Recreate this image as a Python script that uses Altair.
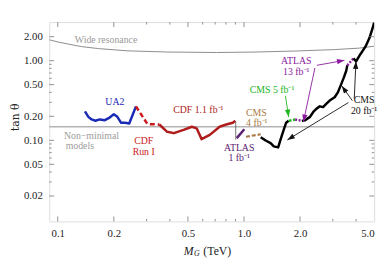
import math
import altair as alt
import pandas as pd

# ---------------- data ----------------
ua2_m = [0.140, 0.146, 0.152, 0.1595, 0.168, 0.179, 0.190, 0.200, 0.209, 0.219, 0.230, 0.242, 0.252, 0.263]
ua2_t = [0.231, 0.197, 0.183, 0.176, 0.183, 0.179, 0.193, 0.212, 0.197, 0.166, 0.166, 0.163, 0.206, 0.267]

cdf1_m = [0.263, 0.303, 0.351]
cdf1_t = [0.267, 0.160, 0.158]

cdf11_m = [0.351, 0.387, 0.420, 0.474, 0.525, 0.557, 0.592, 0.655, 0.740, 0.803, 0.871, 0.899]
cdf11_t = [0.158, 0.128, 0.123, 0.135, 0.148, 0.1415, 0.1035, 0.117, 0.148, 0.158, 0.166, 0.176]

conn_m = [0.903, 0.903]
conn_t = [0.172, 0.102]

atlas1_m = [0.915, 1.004]
atlas1_t = [0.1065, 0.1375]

cms4_m = [1.025, 1.23]
cms4_t = [0.111, 0.119]

cms20a_m = [1.23, 1.307, 1.39, 1.446, 1.526, 1.570, 1.634, 1.683, 1.737]
cms20a_t = [0.1096, 0.0994, 0.0923, 0.0839, 0.0815, 0.1014, 0.1348, 0.166, 0.1756]

cms5_m = [1.737, 1.884]
cms5_t = [0.1756, 0.1827]

atlas13a_m = [1.884, 2.045]
atlas13a_t = [0.1827, 0.1756]

cms20b_m = [2.045, 2.13, 2.262, 2.355, 2.455, 2.555, 2.66, 2.773, 2.886, 3.068, 3.193, 3.328, 3.435, 3.538, 3.59]
cms20b_t = [0.1756, 0.179, 0.197, 0.227, 0.250, 0.267, 0.261, 0.288, 0.316, 0.347, 0.40, 0.508, 0.613, 0.742, 0.875]

atlas13b_m = [3.59, 3.87]
atlas13b_t = [0.875, 1.067]

cms20c_m = [3.87, 4.0, 4.21, 4.49, 4.71, 4.89, 5.0]
cms20c_t = [1.067, 0.98, 1.196, 1.50, 1.91, 2.50, 3.0]

wide_m = [0.09, 0.1015, 0.1146, 0.1345, 0.1654, 0.2382, 0.3877, 0.7124, 1.158, 1.885, 3.067, 4.157, 5.0]
wide_t = [1.830, 1.705, 1.611, 1.501, 1.418, 1.328, 1.284, 1.266, 1.284, 1.321, 1.378, 1.438, 1.52]

nonmin_t = [0.148]

x_major = [0.1, 0.2, 0.5, 1.0, 2.0, 5.0]
x_minor = [0.3, 0.4, 0.6, 0.7, 0.8, 0.9, 3.0, 4.0]
y_major = [0.02, 0.05, 0.1, 0.2, 0.5, 1.0, 2.0]
y_minor = [0.03, 0.04, 0.06, 0.07, 0.08, 0.09, 0.3, 0.4, 0.6, 0.7, 0.8, 0.9]

# annotations: text, m, tan, colour, align
label_text = ["Wide resonance", "UA2", "Non\u2212minimal", "models", "CDF", "Run I",
              "CDF 1.1 fb\u207b\u00b9", "CMS", "4 fb\u207b\u00b9", "ATLAS", "1 fb\u207b\u00b9",
              "CMS 5 fb\u207b\u00b9", "ATLAS", "13 fb\u207b\u00b9", "CMS", "20 fb\u207b\u00b9"]
label_m = [0.1235, 0.2026, 0.108, 0.1103, 0.2894, 0.2894, 0.5686, 1.026, 1.026, 0.942, 0.942,
           1.416, 1.909, 1.909, 4.418, 4.418]
label_t = [1.83, 0.300, 0.1134, 0.0854, 0.0965, 0.0706, 0.237, 0.219, 0.164, 0.0795, 0.0595,
           0.4305, 0.990, 0.7175, 0.318, 0.2306]
label_c = ["#9a9a9a", "#1a2ab5", "#9a9a9a", "#9a9a9a", "#cc1a1a", "#cc1a1a", "#b01c1c",
           "#a87a45", "#a87a45", "#5b2070", "#5b2070", "#22b522", "#8b1a9e", "#8b1a9e",
           "#111111", "#111111"]
label_a = ["left", "center", "left", "left", "center", "center", "center", "left", "left",
           "center", "center", "center", "center", "center", "center", "center"]

# arrows: start (m, tan) -> tip (m, tan)
arr_m0 = [1.669, 2.404, 2.464, 3.636, 3.818, 3.911]
arr_t0 = [0.363, 0.811, 0.875, 0.2977, 0.315, 0.3334]
arr_m1 = [1.738, 2.085, 3.463, 1.71, 3.351, 3.993]
arr_t1 = [0.196, 0.170, 1.009, 0.1012, 0.482, 0.980]
arr_c = ["#22b522", "#8b1a9e", "#8b1a9e", "#111111", "#111111", "#111111"]

# ---------------- chart ----------------
W, H = 331, 203
X_DOM = [0.09, 5.0]
Y_DOM = [0.0096, 3.05]
FONT = "Liberation Serif"
FRAME = "#777777"

xs = alt.Scale(type="log", domain=X_DOM, nice=False, clamp=False)
ys = alt.Scale(type="log", domain=Y_DOM, nice=False, clamp=False)

x_axis = alt.Axis(values=x_major, format=".1f", ticks=False, domain=False, grid=False,
                  labelFont=FONT, labelFontSize=11, labelColor="#222222", labelPadding=6,
                  title=None)
y_axis = alt.Axis(values=y_major, format=".2f", ticks=False, domain=False, grid=False,
                  labelFont=FONT, labelFontSize=11, labelColor="#222222", labelPadding=7,
                  title=None)


def X(field="m"):
    return alt.X(f"{field}:Q", scale=xs, axis=x_axis)


def Y(field="t"):
    return alt.Y(f"{field}:Q", scale=ys, axis=y_axis)


def line(m, t, color, width, dash=None):
    df = pd.DataFrame({"m": m, "t": t, "i": list(range(len(m)))})
    kw = dict(color=color, strokeWidth=width, clip=True, strokeJoin="round")
    if dash:
        kw["strokeDash"] = dash
    return alt.Chart(df).mark_line(**kw).encode(x=X(), y=Y(), order="i:Q")


layers = []

# non-minimal horizontal line
layers.append(alt.Chart(pd.DataFrame({"t": nonmin_t})).mark_rule(color="#b4b4b4", strokeWidth=1.5)
              .encode(y=Y()))
# wide resonance curve
layers.append(line(wide_m, wide_t, "#8c8c8c", 1.0))

# experiments
layers.append(line(ua2_m, ua2_t, "#1a2ab5", 2.5))
layers.append(line(cdf1_m, cdf1_t, "#cc1a1a", 2.5, [5, 3]))
layers.append(line(cdf11_m, cdf11_t, "#b01c1c", 2.5))
layers.append(line(conn_m, conn_t, "#555555", 0.8))
layers.append(line(atlas1_m, atlas1_t, "#5b2070", 2.5))
layers.append(line(cms4_m, cms4_t, "#a87a45", 2.2, [4, 2]))
layers.append(line(cms20a_m, cms20a_t, "#000000", 2.5))
layers.append(line(cms5_m, cms5_t, "#22b522", 2.5, [3, 1.5]))
layers.append(line(atlas13a_m, atlas13a_t, "#8b1a9e", 2.5, [2, 1.5]))
layers.append(line(cms20b_m, cms20b_t, "#000000", 2.5))
layers.append(line(atlas13b_m, atlas13b_t, "#8b1a9e", 2.5, [2, 1.5]))
layers.append(line(cms20c_m, cms20c_t, "#000000", 2.5))

# arrows
kx = W / math.log10(X_DOM[1] / X_DOM[0])
ky = H / math.log10(Y_DOM[1] / Y_DOM[0])
angles = []
for a0, b0, a1, b1 in zip(arr_m0, arr_t0, arr_m1, arr_t1):
    dx = kx * (math.log10(a1) - math.log10(a0))
    dy = -ky * (math.log10(b1) - math.log10(b0))
    angles.append(math.degrees(math.atan2(dx, -dy)) % 360)
arr_df = pd.DataFrame({"m": arr_m0, "t": arr_t0, "m2": arr_m1, "t2": arr_t1,
                       "c": arr_c, "ang": angles})
layers.append(alt.Chart(arr_df).mark_rule(strokeWidth=0.9).encode(
    x=X(), y=Y(), x2="m2:Q", y2="t2:Q", color=alt.Color("c:N", scale=None)))
layers.append(alt.Chart(arr_df).mark_point(
    shape="M0,0L-0.36,1L0.36,1Z", filled=True, size=230, opacity=1, strokeWidth=0).encode(
    x=X("m2"), y=Y("t2"), color=alt.Color("c:N", scale=None),
    angle=alt.Angle("ang:Q", scale=None)))

# labels
lab_df = pd.DataFrame({"text": label_text, "m": label_m, "t": label_t, "c": label_c, "a": label_a})
for al in ["left", "center"]:
    layers.append(alt.Chart(lab_df[lab_df["a"] == al]).mark_text(
        align=al, baseline="middle", font=FONT, fontSize=10).encode(
        x=X(), y=Y(), text="text:N", color=alt.Color("c:N", scale=None)))

# inward ticks on all four sides
def tick_layers(vals, length):
    out = []
    dfx = pd.DataFrame({"m": vals[0]})
    dfy = pd.DataFrame({"t": vals[1]})
    out.append(alt.Chart(dfx).mark_rule(color=FRAME, strokeWidth=0.8).encode(
        x=X(), y=alt.value(H), y2=alt.value(H - length)))
    out.append(alt.Chart(dfx).mark_rule(color=FRAME, strokeWidth=0.8).encode(
        x=X(), y=alt.value(0), y2=alt.value(length)))
    out.append(alt.Chart(dfy).mark_rule(color=FRAME, strokeWidth=0.8).encode(
        y=Y(), x=alt.value(0), x2=alt.value(length)))
    out.append(alt.Chart(dfy).mark_rule(color=FRAME, strokeWidth=0.8).encode(
        y=Y(), x=alt.value(W), x2=alt.value(W - length)))
    return out


layers += tick_layers((x_major[:-1], y_major), 5)
layers += tick_layers((x_minor, y_minor), 2.5)

# axis titles
layers.append(alt.Chart(pd.DataFrame({"s": ["M"]})).mark_text(
    align="left", baseline="middle", font=FONT, fontSize=12, fontStyle="italic", color="#222222").encode(
    text="s:N", x=alt.value(137), y=alt.value(233)))
layers.append(alt.Chart(pd.DataFrame({"s": ["G"]})).mark_text(
    align="left", baseline="middle", font=FONT, fontSize=8, fontStyle="italic", color="#222222").encode(
    text="s:N", x=alt.value(147.5), y=alt.value(236)))
layers.append(alt.Chart(pd.DataFrame({"s": ["(TeV)"]})).mark_text(
    align="left", baseline="middle", font=FONT, fontSize=12, color="#222222").encode(
    text="s:N", x=alt.value(157), y=alt.value(233)))
layers.append(alt.Chart(pd.DataFrame({"s": ["tan \u03b8"]})).mark_text(
    align="center", baseline="middle", font="DejaVu Serif", fontSize=11, angle=270, color="#222222").encode(
    text="s:N", x=alt.value(-34), y=alt.value(97)))

chart = alt.layer(*layers).properties(
    width=W, height=H,
    autosize=alt.AutoSizeParams(type="none"),
    padding={"left": 42, "top": 12, "right": 8, "bottom": 38},
).configure_view(stroke=FRAME, strokeWidth=1).configure(background="white")

chart.save("out.html", embed_options={"renderer": "svg", "actions": False})
